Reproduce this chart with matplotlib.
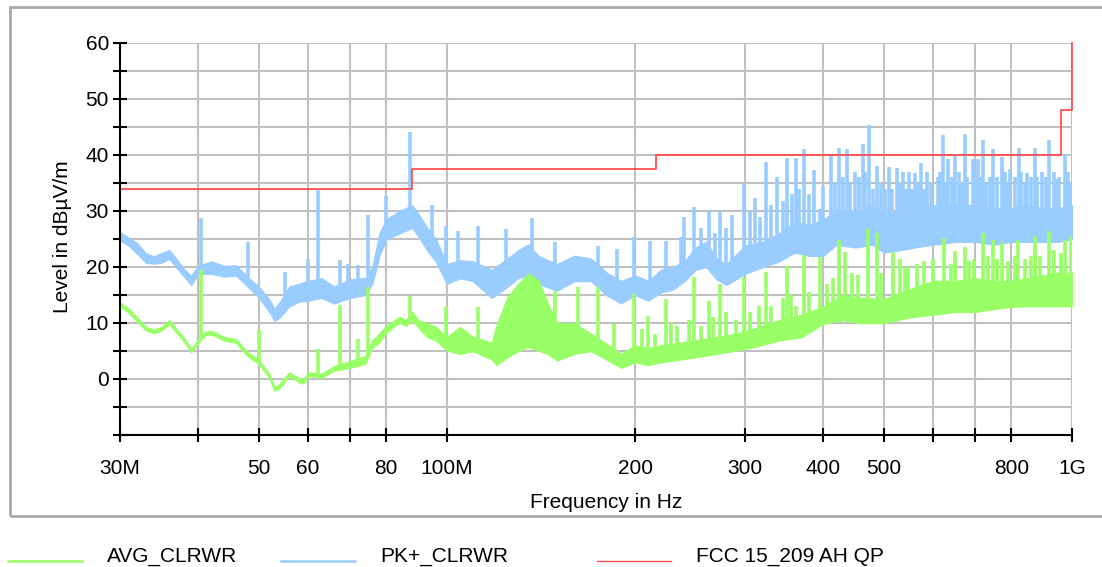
import numpy as np
import matplotlib
matplotlib.use('Agg')
import matplotlib.pyplot as plt
from matplotlib.lines import Line2D
from matplotlib.patches import Rectangle

plt.rcParams['font.family'] = ['Liberation Sans', 'DejaVu Sans']

# frequencies in MHz, levels in dBuV/m
pk_freq = [30, 31, 32, 33, 34, 35, 36, 37, 38, 39, 40, 42, 44, 46, 48, 50, 52, 53, 54, 56,
           58, 60, 63, 66, 70, 74, 76, 78, 80, 84, 88, 90, 93, 96, 100, 105, 110, 118, 125,
           130, 135, 140, 150, 160, 170, 180, 190, 200, 210, 220, 230, 240, 250, 260, 270,
           280, 300, 320, 340, 360, 380, 400, 420, 450, 480, 500, 530, 560, 600, 650, 700,
           750, 800, 850, 900, 950, 1000]
pk_lo = [24.8, 23.8, 22.3, 20.8, 20.6, 20.8, 21.5, 19.8, 18.3, 16.8, 18.8, 18.8, 18.3, 18.5,
         16.5, 14.6, 12.0, 10.4, 11.0, 13.0, 13.8, 14.0, 14.5, 13.5, 14.5, 15.0, 17.0, 22.0,
         25.0, 26.0, 27.0, 25.5, 23.0, 21.0, 17.0, 18.0, 17.5, 14.5, 16.5, 18.0, 18.5, 17.0,
         15.8, 17.5, 17.5, 15.0, 13.5, 15.0, 14.0, 15.5, 16.0, 17.5, 19.5, 20.0, 17.8, 16.8,
         18.8, 20.0, 21.0, 22.6, 22.0, 22.0, 24.0, 23.5, 24.0, 22.6, 23.0, 23.5, 24.0, 24.5,
         24.5, 24.0, 24.5, 24.5, 24.5, 24.5, 25.0]
pk_hi = [26.2, 25.2, 24.2, 22.4, 21.9, 22.5, 23.0, 21.3, 19.6, 18.4, 20.2, 21.0, 20.2, 20.3,
         18.2, 16.5, 14.2, 12.5, 13.7, 16.5, 17.0, 17.5, 18.0, 16.5, 17.8, 18.0, 20.0, 26.0,
         28.5, 30.0, 31.0, 29.5, 27.0, 25.0, 20.5, 21.2, 21.0, 19.5, 21.5, 23.0, 24.0, 22.0,
         20.5, 22.0, 21.5, 19.0, 17.5, 18.5, 17.5, 19.5, 20.0, 21.0, 23.5, 24.5, 21.5, 20.5,
         23.8, 24.5, 26.0, 28.0, 27.5, 28.5, 30.0, 30.0, 31.0, 29.5, 30.0, 30.5, 31.0, 31.3,
         31.0, 30.5, 30.5, 31.0, 30.5, 30.5, 31.0]

pk_spike_freq = [40.5, 48.0, 55.1, 59.9, 62.2, 67.5, 69.5, 72.1, 74.7, 79.9, 87.3, 94.6,
                 99.7, 104.2, 112.1, 124.4, 136.8, 149, 174.5, 187, 199.3, 211.4, 224, 237,
                 239.6, 248.5, 255, 262.7, 268, 273.6, 280, 285.9, 298.8, 305, 311, 317, 324,
                 330, 337.5, 345, 350, 357, 362, 366, 373, 380, 386.8, 395, 400, 411.5, 418,
                 424, 430, 436, 442, 450, 456, 462.6, 466, 472.9, 480, 487, 495, 503, 509.8,
                 515, 524.5, 530, 536, 542, 548, 555, 561, 567, 573, 580, 585.6, 595, 610,
                 616, 622.8, 628, 634, 642, 650, 660, 668, 674, 680, 694, 700, 708, 712, 720,
                 728, 740, 748.5, 760, 772, 780, 790, 796, 810, 823, 830, 840, 846.6, 860,
                 872.8, 880, 895, 910, 920, 935, 945, 955, 976, 985, 996.6]
pk_spike_top = [28.8, 24.5, 19.1, 21.5, 33.7, 21.2, 20.6, 20.3, 29.3, 32.6, 44.1, 31.0,
                27.4, 26.5, 27.3, 26.8, 28.75, 24.5, 23.8, 23.3, 25.3, 24.7, 24.7, 25.3,
                29.0, 30.8, 27.0, 30.1, 26.0, 29.8, 27.0, 29.3, 35.0, 30.0, 32.4, 29.0, 38.8,
                31.0, 36.0, 31.8, 39.5, 33.0, 39.5, 34.0, 41.0, 33.0, 37.3, 30.4, 34.5, 39.8,
                35.0, 41.2, 36.0, 41.0, 35.0, 37.0, 36.0, 42.0, 37.0, 45.3, 34.0, 38.1, 35.0,
                34.0, 37.8, 34.0, 37.7, 35.0, 37.0, 34.0, 37.0, 34.0, 36.7, 35.0, 38.6, 34.0,
                37.0, 35.0, 36.0, 37.0, 43.5, 35.0, 39.2, 36.0, 39.9, 37.0, 35.0, 43.8, 36.0,
                39.2, 37.0, 39.2, 36.0, 42.7, 35.0, 36.0, 41.0, 36.0, 39.6, 37.0, 35.0, 37.5,
                36.0, 41.3, 37.0, 35.0, 36.7, 36.0, 41.3, 36.0, 37.0, 36.0, 42.7, 37.0, 35.7,
                36.0, 40.2, 37.0, 35.0]

avg_freq = [30, 31, 32, 33, 34, 35, 36, 37, 38, 39, 40, 41, 42, 44, 46, 48, 50, 52, 53, 54,
            56, 58, 59, 60, 63, 66, 70, 74, 76, 78, 80, 84, 86, 88, 90, 93, 96, 100, 105,
            110, 118, 120, 125, 130, 135, 140, 145, 150, 160, 170, 180, 190, 200, 210, 220,
            230, 250, 270, 290, 310, 340, 370, 400, 430, 460, 500, 550, 600, 650, 700, 750,
            800, 850, 900, 950, 1000]
avg_lo = [13.0, 11.8, 10.2, 8.7, 8.2, 8.7, 9.8, 8.2, 6.7, 4.8, 6.4, 7.8, 8.0, 6.9, 6.5, 4.1,
          2.7, 0.2, -2.1, -1.6, 0.6, -0.6, -0.8, 0.6, 0.2, 1.5, 2.0, 2.7, 5.6, 6.6, 8.3, 10.1,
          9.5, 10.6, 9.2, 7.5, 6.9, 5.1, 4.5, 5.0, 3.5, 2.5, 3.9, 5.0, 5.7, 5.1, 4.5, 3.3, 4.5,
          5.0, 3.5, 2.0, 3.0, 2.5, 3.0, 3.3, 3.9, 4.5, 5.1, 5.7, 6.9, 7.5, 9.9, 10.5, 10.0,
          10.0, 11.0, 11.5, 12.0, 12.0, 12.5, 12.9, 13.0, 13.0, 13.0, 13.0]
avg_hi = [13.7, 12.5, 10.9, 9.3, 8.8, 9.3, 10.5, 8.8, 7.3, 5.4, 7.0, 8.4, 8.6, 7.5, 7.1, 4.8,
          3.4, 0.9, -1.4, -0.9, 1.2, 0.1, -0.1, 1.2, 0.9, 2.3, 3.2, 4.1, 6.9, 8.1, 9.5, 11.1,
          10.5, 12.0, 10.5, 9.9, 9.3, 7.5, 9.3, 7.5, 6.5, 9.5, 14.6, 17.0, 18.8, 17.6, 13.5,
          10.0, 9.9, 8.1, 6.3, 4.5, 6.0, 5.5, 6.0, 6.3, 6.9, 7.5, 8.1, 9.0, 10.5, 11.5, 12.9,
          15.0, 14.5, 14.3, 16.0, 17.5, 17.5, 18.0, 17.5, 17.5, 18.0, 18.5, 19.0, 19.0]

avg_spike_freq = [40.5, 50.0, 62.2, 67.5, 72.1, 74.7, 87.3, 99.7, 112.1, 149, 162, 174.5,
                  185, 199.3, 205, 210, 215, 224, 228, 233, 244, 248.5, 255, 262.7, 267,
                  273.6, 280, 290, 298.8, 305, 316, 324, 330, 345, 350, 355, 362, 373, 380,
                  395, 405, 415, 424, 433.5, 445, 455, 472, 487, 495, 518, 531, 540, 547, 565,
                  580, 600, 623, 640, 650, 674, 685, 698, 720, 735, 748.5, 760, 772, 790, 810,
                  821, 840, 860, 873, 890, 920, 935, 960, 976, 998]
avg_spike_top = [19.4, 8.7, 5.4, 13.3, 7.2, 16.4, 14.9, 12.9, 12.9, 15.8, 16.4, 16.4, 9.9,
                 15.2, 9.0, 11.3, 8.0, 14.3, 10.0, 9.5, 10.5, 18.2, 9.5, 14.0, 11.0, 17.0,
                 12.0, 10.5, 18.2, 12.0, 13.0, 19.1, 13.0, 14.5, 20.2, 15.0, 13.0, 22.2, 15.5,
                 21.8, 17.0, 18.0, 24.8, 22.6, 19.0, 18.5, 26.7, 26.1, 19.0, 22.6, 21.4, 20.0,
                 20.0, 20.6, 21.0, 21.5, 25.1, 20.5, 22.8, 23.6, 21.0, 21.4, 26.1, 22.0, 24.9,
                 21.5, 24.2, 21.0, 22.0, 24.9, 21.5, 22.0, 25.5, 22.0, 26.4, 23.0, 22.5, 24.9,
                 25.5]

lim_freq = [30, 88, 216, 960, 1000]
lim_level = [34, 37.5, 40, 48, 60]

xtick_mhz = [30, 40, 50, 60, 70, 80, 100, 200, 300, 400, 500, 600, 700, 800, 1000]
xtick_text = ['30M', '', '50', '60', '', '80', '100M', '200', '300', '400', '500', '', '', '800', '1G']

c_avg = '#99ff66'
c_pk = '#99ccff'
c_lim = '#ff4d4d'
fs = 15

W, H = 1102, 567
fig = plt.figure(figsize=(W / 100, H / 100), dpi=100)
ax = fig.add_axes([120 / W, 1 - 435 / H, 952 / W, 392 / H])

hz = 1e6
pkf = np.array(pk_freq) * hz
avf = np.array(avg_freq) * hz

# peak trace
ax.fill_between(pkf, pk_lo, pk_hi, color=c_pk, lw=1.0, zorder=2)
mid_pk = (np.array(pk_lo) + np.array(pk_hi)) / 2
base = np.interp(np.log10(pk_spike_freq), np.log10(pk_freq), mid_pk)
ax.vlines(np.array(pk_spike_freq) * hz, base, pk_spike_top, color=c_pk, lw=2.6, zorder=2)

# average trace
ax.fill_between(avf, avg_lo, avg_hi, color=c_avg, lw=1.0, zorder=3)
mid_av = (np.array(avg_lo) + np.array(avg_hi)) / 2
base = np.interp(np.log10(avg_spike_freq), np.log10(avg_freq), mid_av)
ax.vlines(np.array(avg_spike_freq) * hz, base, avg_spike_top, color=c_avg, lw=2.6, zorder=3)

# limit line
ax.step(np.array(lim_freq) * hz, lim_level, where='post', color=c_lim, lw=1.3, zorder=4,
        clip_on=False)

ax.set_xscale('log')
ax.set_xlim(30e6, 1e9)
ax.set_ylim(-10, 60)
ax.set_xticks(np.array(xtick_mhz) * hz)
ax.set_xticklabels(xtick_text)
ax.xaxis.set_minor_locator(matplotlib.ticker.NullLocator())
ax.set_yticks(range(-10, 61, 10))
ax.set_yticklabels([''] + [str(v) for v in range(0, 61, 10)])
ax.set_yticks(range(-5, 60, 10), minor=True)

ax.grid(True, which='both', color='#c0c0c0', lw=1.5, zorder=0)
ax.set_axisbelow(True)
for s in ['top', 'right']:
    ax.spines[s].set_visible(False)
for s in ['left', 'bottom']:
    ax.spines[s].set_linewidth(1.5)
    ax.spines[s].set_zorder(5)
ax.tick_params(which='both', direction='inout', length=10, width=1.5, labelsize=fs)
ax.tick_params(axis='x', pad=12)
ax.tick_params(axis='y', pad=3)

fig.text(62 / W, 1 - 237 / H, 'Level in dBµV/m', rotation=90, ha='center', va='center',
         fontsize=fs)
fig.text(606 / W, 1 - 502 / H, 'Frequency in Hz', ha='center', va='center', fontsize=fs)

# outer frame
fig.patches.append(Rectangle((10 / W, 1 - 516 / H), 1.05, 509 / H,
                             transform=fig.transFigure, fill=False, ec='#a8a8a8', lw=2))

# legend drawn at its place under the frame
legend_items = [(8, c_avg, 1.8, 'AVG_CLRWR'), (281, c_pk, 1.8, 'PK+_CLRWR'),
                (597, c_lim, 1.0, 'FCC 15_209 AH QP')]
for x0, col, lw, name in legend_items:
    fig.add_artist(Line2D([x0 / W, (x0 + 74) / W], [1 - 561 / H] * 2, color=col, lw=lw,
                          transform=fig.transFigure))
    fig.text((x0 + 99) / W, 1 - 556.5 / H, name, ha='left', va='center', fontsize=fs)

fig.savefig('out.png', dpi=100)
